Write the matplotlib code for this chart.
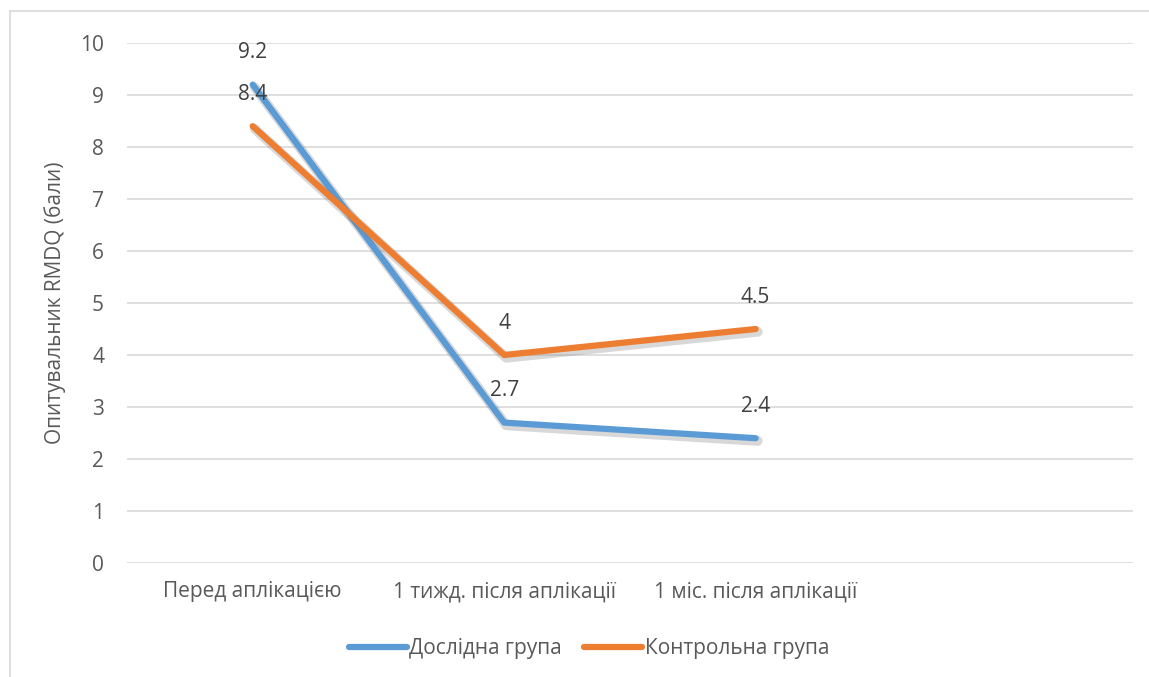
import matplotlib.pyplot as plt
import matplotlib.patheffects as pe
from matplotlib.lines import Line2D

plt.rcParams['font.family'] = ['Open Sans', 'DejaVu Sans']

CATEGORIES = ['Перед аплікацією', '1 тижд. після аплікації', '1 міс. після аплікації', '']
STUDY_GROUP = [9.2, 2.7, 2.4]
CONTROL_GROUP = [8.4, 4.0, 4.5]
STUDY_LABELS = ['9.2', '2.7', '2.4']
CONTROL_LABELS = ['8.4', '4', '4.5']
SERIES_NAMES = ['Дослідна група', 'Контрольна група']

BLUE = '#5B9BD5'
ORANGE = '#ED7D31'
TEXT = '#595959'
GRID = '#D9D9D9'
FS = 15

fig = plt.figure(figsize=(11.49, 6.77), dpi=100)
ax = fig.add_axes([0.1105, 0.1684, 0.8755, 0.7681])

shadow = [pe.SimpleLineShadow(offset=(1.5, -2), shadow_color='#7F7F7F', alpha=0.3, linewidth=7),
          pe.Normal()]

x = list(range(len(STUDY_GROUP)))
ax.plot(x, STUDY_GROUP, color=BLUE, linewidth=4.5, solid_capstyle='round',
        solid_joinstyle='round', path_effects=shadow, zorder=3)
ax.plot(x, CONTROL_GROUP, color=ORANGE, linewidth=4.5, solid_capstyle='round',
        solid_joinstyle='round', path_effects=shadow, zorder=4)

for xi, v, lab in zip(x, STUDY_GROUP, STUDY_LABELS):
    ax.annotate(lab, (xi, v), xytext=(0, 23), textcoords='offset points',
                ha='center', va='center', fontsize=FS, color='#404040', zorder=5)
for xi, v, lab in zip(x, CONTROL_GROUP, CONTROL_LABELS):
    ax.annotate(lab, (xi, v), xytext=(0, 23), textcoords='offset points',
                ha='center', va='center', fontsize=FS, color='#404040', zorder=5)

ax.set_xlim(-0.5, len(CATEGORIES) - 0.5)
ax.set_ylim(0, 10)
ax.set_yticks(range(0, 11))
ax.set_xticks(range(len(CATEGORIES)))
ax.set_xticklabels(CATEGORIES)
ax.grid(axis='y', color=GRID, linewidth=1.2)
ax.set_axisbelow(True)
for s in ax.spines.values():
    s.set_visible(False)
ax.tick_params(axis='both', length=0, labelsize=FS, colors=TEXT)
ax.tick_params(axis='y', pad=16.5)
ax.tick_params(axis='x', pad=13)
ax.set_ylabel('Опитувальник RMDQ (бали)', fontsize=FS, color=TEXT, labelpad=10)

handles = [Line2D([], [], color=BLUE, linewidth=4.5, solid_capstyle='round'),
           Line2D([], [], color=ORANGE, linewidth=4.5, solid_capstyle='round')]
fig.legend(handles, SERIES_NAMES, loc='center', bbox_to_anchor=(0.5126, 0.042), ncol=2,
           frameon=False, fontsize=FS, labelcolor=TEXT, handlelength=2.8,
           handletextpad=0.12, columnspacing=1.05)

# chart frame edges
fig.add_artist(Line2D([10 / 1149, 1.0], [1 - 11 / 677, 1 - 11 / 677],
                      transform=fig.transFigure, color=GRID, linewidth=1.2))
fig.add_artist(Line2D([10 / 1149, 10 / 1149], [0.0, 1 - 11 / 677],
                      transform=fig.transFigure, color=GRID, linewidth=1.2))

fig.savefig('out.png', dpi=100, facecolor='white')
